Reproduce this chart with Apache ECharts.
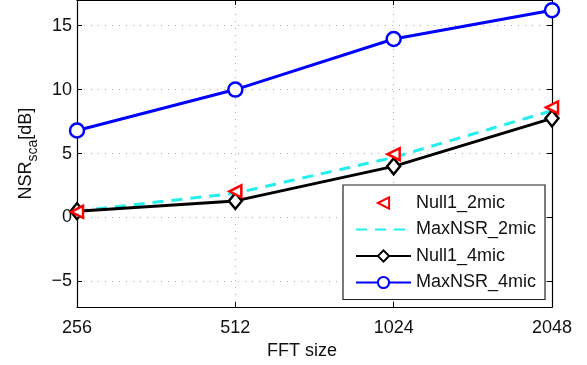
<!DOCTYPE html>
<html>
<head>
<meta charset="utf-8">
<style>html,body{margin:0;padding:0;background:#fff}#c{width:587px;height:365px}</style>
<script src="https://cdn.jsdelivr.net/npm/echarts@6/dist/echarts.min.js"></script>
</head>
<body>
<div id="c"></div>
<script>
var categories = ['256', '512', '1024', '2048'];
var yTicks = [-5, 0, 5, 10, 15];
var null1_2mic = [0.45, 2.05, 4.95, 8.6];
var maxNSR_2mic = [0.5, 1.9, 4.7, 8.35];
var null1_4mic = [0.5, 1.3, 4.0, 7.75];
var maxNSR_4mic = [6.8, 10.0, 13.95, 16.2];

var FONT = 'Liberation Sans, Arial, sans-serif';
var chart = echarts.init(document.getElementById('c'), null, {renderer: 'canvas'});
var axisLine = {show: true, onZero: false, lineStyle: {color: '#000', width: 1.2}};
var grid = {left: 77, right: 35, top: 0, bottom: 55, containLabel: false};

chart.setOption({
  animation: false,
  backgroundColor: '#fff',
  textStyle: {fontFamily: FONT},
  grid: grid,
  legend: {
    orient: 'vertical',
    left: 343, top: 185,
    padding: [9, 9, 8, 12],
    itemWidth: 55, itemHeight: 14, itemGap: 8.5,
    backgroundColor: '#fff',
    borderColor: '#222', borderWidth: 1.2, borderRadius: 0,
    textStyle: {fontFamily: FONT, fontSize: 18, color: '#111'},
    data: ['Null1_2mic', {name: 'MaxNSR_2mic', itemStyle: {opacity: 0}}, 'Null1_4mic', 'MaxNSR_4mic']
  },
  xAxis: [{
    type: 'category', data: categories, boundaryGap: false,
    axisLine: axisLine,
    axisTick: {show: true, inside: true, length: 5, lineStyle: {color: '#000'}},
    axisLabel: {show: true, fontSize: 18, color: '#111', margin: 12, fontFamily: FONT},
    splitLine: {show: true, lineStyle: {color: '#aaa', type: [1, 6], width: 1}},
    name: 'FFT size', nameLocation: 'middle', nameGap: 34,
    nameTextStyle: {fontSize: 18, color: '#111', fontFamily: FONT, padding: [0, 25, 0, 0]}
  }, {
    type: 'category', data: categories, boundaryGap: false, position: 'top',
    axisLine: axisLine,
    axisTick: {show: true, inside: true, length: 5, lineStyle: {color: '#000'}},
    axisLabel: {show: false}, splitLine: {show: false}
  }],
  yAxis: [{
    type: 'value', min: -7, max: 17,
    axisLine: axisLine,
    axisTick: {show: true, inside: true, length: 5, customValues: yTicks, lineStyle: {color: '#000'}},
    axisLabel: {show: true, customValues: yTicks, fontSize: 18, color: '#111', margin: 5, fontFamily: FONT,
      formatter: function (v) { return String(v).replace('-', '\u2212'); }},
    splitLine: {show: true, lineStyle: {color: '#aaa', type: [1, 6], width: 1}},
    name: 'NSR{sub|sca}[dB]', nameLocation: 'middle', nameGap: 37, nameRotate: 90,
    nameTextStyle: {
      fontSize: 18, color: '#111', fontFamily: FONT,
      rich: {
        sub: {fontSize: 14, color: '#111', fontFamily: FONT, verticalAlign: 'bottom', lineHeight: 28}
      }
    }
  }, {
    type: 'value', min: -7, max: 17, position: 'right',
    axisLine: axisLine,
    axisTick: {show: true, inside: true, length: 5, customValues: yTicks, lineStyle: {color: '#000'}},
    axisLabel: {show: false, customValues: yTicks}, splitLine: {show: false}
  }],
  series: [{
    name: 'Null1_2mic', type: 'line', data: null1_2mic, z: 5,
    symbol: 'triangle', symbolRotate: 90, symbolSize: 12, showSymbol: true,
    lineStyle: {width: 0, opacity: 0},
    itemStyle: {color: '#fff', borderColor: '#ff0000', borderWidth: 2.5}
  }, {
    name: 'MaxNSR_2mic', type: 'line', data: maxNSR_2mic, z: 3,
    symbol: 'none', showSymbol: false,
    lineStyle: {width: 3, color: '#22eeee', type: [11, 8]},
    itemStyle: {color: '#22eeee'}
  }, {
    name: 'Null1_4mic', type: 'line', data: null1_4mic, z: 4,
    symbol: 'diamond', symbolSize: [13, 16],
    lineStyle: {width: 3, color: '#000'},
    itemStyle: {color: '#fff', borderColor: '#000', borderWidth: 2.5}
  }, {
    name: 'MaxNSR_4mic', type: 'line', data: maxNSR_4mic, z: 4,
    symbol: 'circle', symbolSize: 14,
    lineStyle: {width: 3, color: '#0000ff'},
    itemStyle: {color: '#fff', borderColor: '#0000ff', borderWidth: 2.5}
  }]
});
</script>
</body>
</html>
